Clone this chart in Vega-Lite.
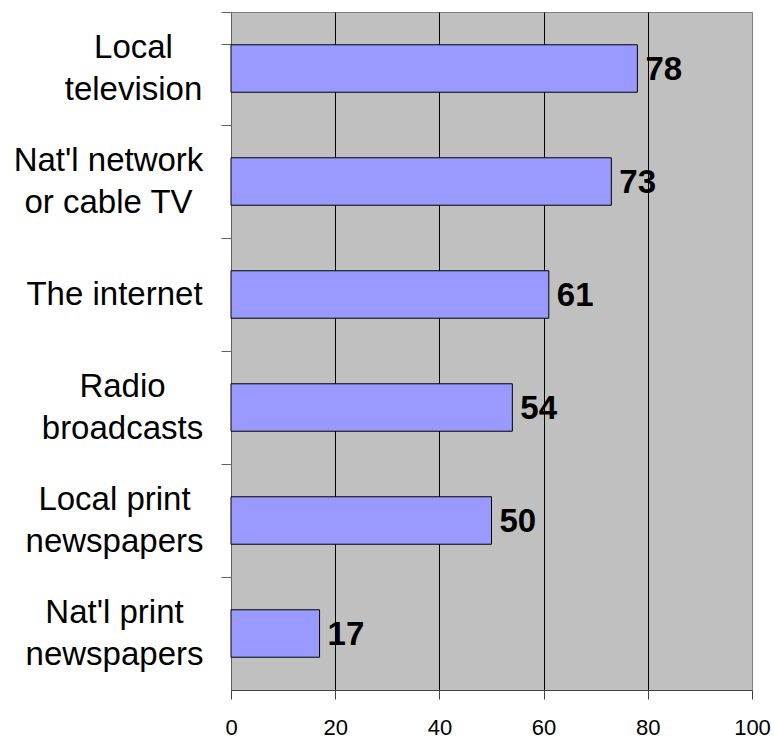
{
  "$schema": "https://vega.github.io/schema/vega-lite/v6.json",
  "width": 521,
  "height": 678,
  "autosize": "none",
  "padding": {"left": 231, "top": 12, "right": 22, "bottom": 48},
  "background": "white",
  "config": {
    "view": {"fill": "#C0C0C0", "stroke": "#808080", "strokeWidth": 1},
    "font": "Liberation Sans"
  },
  "data": {
    "values": [
      {"source": "Local|television", "value": 78},
      {"source": "Nat'l network|or cable TV", "value": 73},
      {"source": "The internet", "value": 61},
      {"source": "Radio|broadcasts", "value": 54},
      {"source": "Local print|newspapers", "value": 50},
      {"source": "Nat'l print|newspapers", "value": 17}
    ]
  },
  "encoding": {
    "y": {
      "field": "source",
      "type": "nominal",
      "sort": null,
      "scale": {"paddingInner": 0.58, "paddingOuter": 0.29},
      "axis": {
        "title": null,
        "labelExpr": "isValid(datum.value) ? split(datum.value, '|') : ''",
        "labelFont": "Liberation Sans",
        "labelFontSize": 33,
        "labelLineHeight": 42,
        "labelColor": "black",
        "labelAlign": "center",
        "labelBaseline": "middle",
        "labelPadding": {
          "condition": [
            {"test": "datum.value == 'Local|television'", "value": 88},
            {"test": "datum.value == \"Nat'l network|or cable TV\"", "value": 113},
            {"test": "datum.value == 'Radio|broadcasts'", "value": 99}
          ],
          "value": 107
        },
        "labelOffset": {
          "condition": {"test": "datum.value == 'The internet'", "value": 0},
          "value": -21
        },
        "labelLimit": 300,
        "bandPosition": -0.69,
        "tickExtra": true,
        "tickSize": 10,
        "tickColor": "#606060",
        "domainColor": "#606060",
        "grid": false
      }
    }
  },
  "layer": [
    {
      "mark": {"type": "bar", "fill": "#9999FF", "stroke": "black", "strokeWidth": 1},
      "encoding": {
        "x": {
          "field": "value",
          "type": "quantitative",
          "scale": {"domain": [0, 100], "nice": false},
          "axis": {
            "title": null,
            "values": [0, 20, 40, 60, 80, 100],
            "labelFont": "Liberation Sans",
            "labelFontSize": 22,
            "labelColor": "black",
            "labelPadding": 18,
            "labelFlush": false,
            "tickSize": 9,
            "tickColor": "#404040",
            "domainColor": "#404040",
            "grid": true,
            "gridColor": "black",
            "gridOpacity": {
              "condition": {"test": "datum.value == 0 || datum.value == 100", "value": 0},
              "value": 1
            },
            "gridWidth": 1
          }
        }
      }
    },
    {
      "mark": {
        "type": "text",
        "align": "left",
        "baseline": "middle",
        "dx": 8,
        "dy": 1,
        "font": "Liberation Sans",
        "fontSize": 33,
        "fontWeight": "bold",
        "color": "black"
      },
      "encoding": {
        "x": {"field": "value", "type": "quantitative"},
        "text": {"field": "value", "type": "quantitative"}
      }
    }
  ]
}
